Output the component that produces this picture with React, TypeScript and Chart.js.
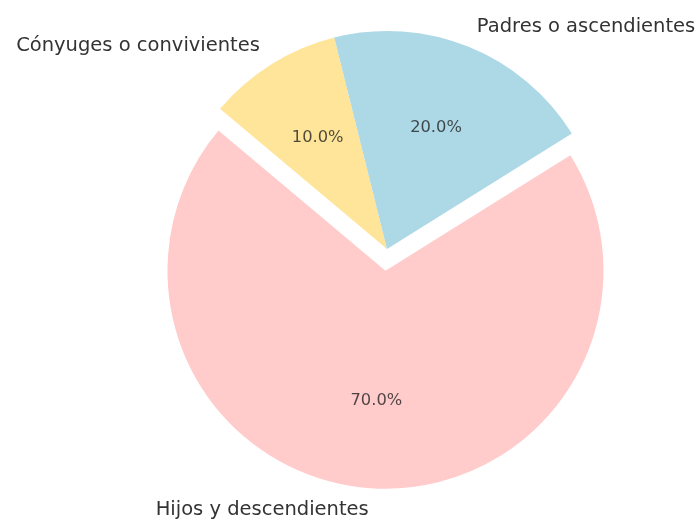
import React, { useEffect, useRef } from "react";
import { Chart, registerables } from "chart.js";

Chart.register(...registerables);

// Data (clockwise order as drawn by Chart.js, starting at the yellow slice)
const categories = ["Cónyuges o convivientes", "Padres o ascendientes", "Hijos y descendientes"];
const values = [10, 20, 70];
const explode = [0, 0, 0.1];
const colors = ["#ffe599", "#add8e6", "#ffcccb"];

const LABEL_FONT = '19.5px "DejaVu Sans", sans-serif';
const PCT_FONT = '16.3px "DejaVu Sans", sans-serif';

const explodePlugin = {
  id: "explodeSlices",
  afterDatasetUpdate(chart: any, args: any) {
    const meta = args.meta;
    meta.data.forEach((arc: any, i: number) => {
      const e = explode[i] || 0;
      if (!e) return;
      const mid = (arc.startAngle + arc.endAngle) / 2;
      const d = e * arc.outerRadius;
      arc.x = arc.x + Math.cos(mid) * d;
      arc.y = arc.y + Math.sin(mid) * d;
    });
  },
};

const labelPlugin = {
  id: "pieLabels",
  afterDatasetsDraw(chart: any) {
    const ctx: CanvasRenderingContext2D = chart.ctx;
    const meta = chart.getDatasetMeta(0);
    const total = values.reduce((a, b) => a + b, 0);
    ctx.save();
    meta.data.forEach((arc: any, i: number) => {
      const mid = (arc.startAngle + arc.endAngle) / 2;
      const r = arc.outerRadius;
      const cx = arc.x;
      const cy = arc.y;
      // percentage
      ctx.font = PCT_FONT;
      ctx.fillStyle = "rgba(30,30,30,0.78)";
      ctx.textAlign = "center";
      ctx.textBaseline = "middle";
      const pct = ((values[i] / total) * 100).toFixed(1) + "%";
      ctx.fillText(pct, cx + Math.cos(mid) * r * 0.6, cy + Math.sin(mid) * r * 0.6);
      // category label
      ctx.font = LABEL_FONT;
      ctx.fillStyle = "#333333";
      const lx = cx + Math.cos(mid) * r * 1.1;
      const ly = cy + Math.sin(mid) * r * 1.1;
      ctx.textAlign = Math.cos(mid) > 0 ? "left" : "right";
      ctx.fillText(categories[i], lx, ly);
    });
    ctx.restore();
  },
};

export default function App() {
  const ref = useRef<HTMLCanvasElement | null>(null);
  useEffect(() => {
    if (!ref.current) return;
    const chart = new Chart(ref.current, {
      type: "pie",
      data: {
        labels: categories,
        datasets: [
          {
            data: values,
            backgroundColor: colors,
            borderWidth: 0,
            hoverOffset: 0,
          },
        ],
      },
      options: {
        responsive: false,
        animation: false,
        events: [],
        rotation: -50,
        radius: 218,
        layout: { padding: { left: 75, right: 0, top: 0, bottom: 24 } },
        plugins: {
          legend: { display: false },
          tooltip: { enabled: false },
          title: { display: false },
        },
      } as any,
      plugins: [explodePlugin, labelPlugin],
    });
    return () => chart.destroy();
  }, []);
  return (
    <div style={{ position: "absolute", left: 0, top: 0, width: 699, height: 522, background: "#fff" }}>
      <canvas ref={ref} width={699} height={522} style={{ display: "block", width: 699, height: 522 }} />
    </div>
  );
}
